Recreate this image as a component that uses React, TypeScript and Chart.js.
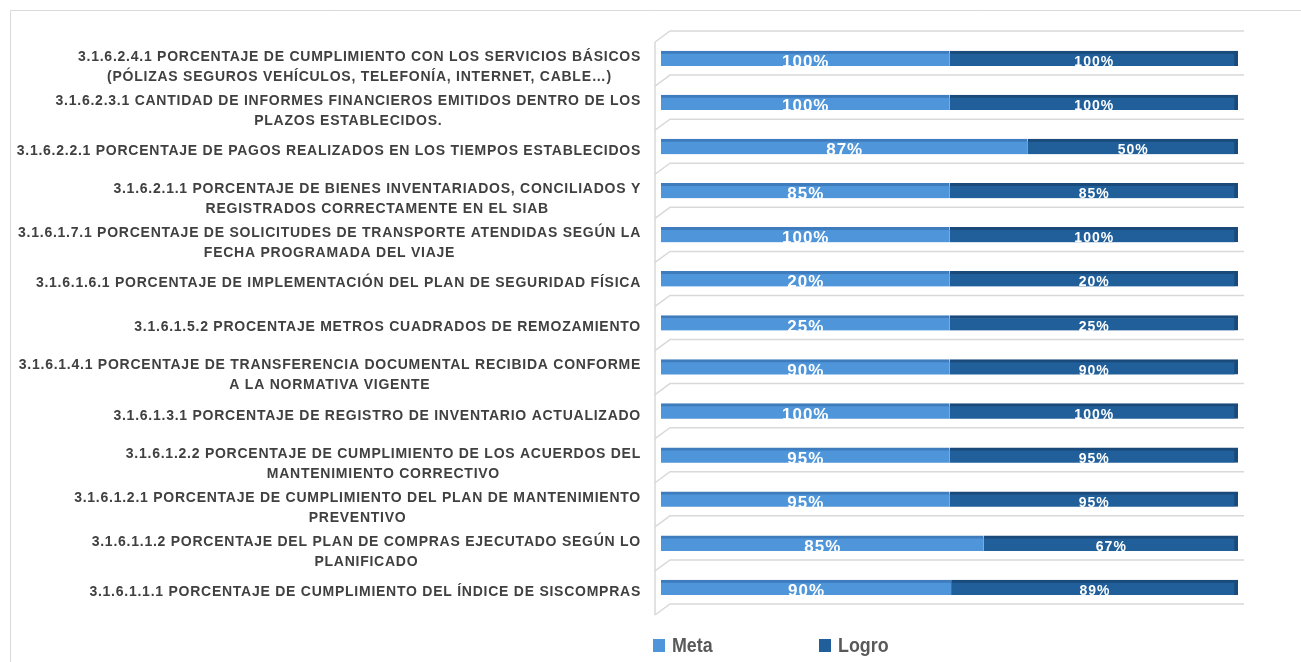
import React, { useEffect, useRef } from "react";
import { Chart, registerables } from "chart.js";

Chart.register(...registerables);

const categories: string[][] = [
  ["3.1.6.2.4.1 PORCENTAJE DE CUMPLIMIENTO CON LOS SERVICIOS BÁSICOS", "(PÓLIZAS SEGUROS VEHÍCULOS, TELEFONÍA, INTERNET, CABLE…)"],
  ["3.1.6.2.3.1 CANTIDAD DE INFORMES FINANCIEROS EMITIDOS DENTRO DE LOS", "PLAZOS ESTABLECIDOS."],
  ["3.1.6.2.2.1 PORCENTAJE DE PAGOS REALIZADOS EN LOS TIEMPOS ESTABLECIDOS"],
  ["3.1.6.2.1.1 PORCENTAJE DE BIENES INVENTARIADOS, CONCILIADOS Y", "REGISTRADOS CORRECTAMENTE EN EL SIAB"],
  ["3.1.6.1.7.1 PORCENTAJE DE SOLICITUDES DE TRANSPORTE ATENDIDAS SEGÚN LA", "FECHA PROGRAMADA DEL VIAJE"],
  ["3.1.6.1.6.1 PORCENTAJE DE IMPLEMENTACIÓN DEL PLAN DE SEGURIDAD FÍSICA"],
  ["3.1.6.1.5.2 PROCENTAJE METROS CUADRADOS DE REMOZAMIENTO"],
  ["3.1.6.1.4.1 PORCENTAJE DE TRANSFERENCIA DOCUMENTAL RECIBIDA CONFORME", "A LA NORMATIVA VIGENTE"],
  ["3.1.6.1.3.1 PORCENTAJE DE REGISTRO DE INVENTARIO ACTUALIZADO"],
  ["3.1.6.1.2.2 PORCENTAJE DE CUMPLIMIENTO DE LOS ACUERDOS DEL", "MANTENIMIENTO CORRECTIVO"],
  ["3.1.6.1.2.1 PORCENTAJE DE CUMPLIMIENTO DEL PLAN DE MANTENIMIENTO", "PREVENTIVO"],
  ["3.1.6.1.1.2 PORCENTAJE DEL PLAN DE COMPRAS EJECUTADO SEGÚN LO", "PLANIFICADO"],
  ["3.1.6.1.1.1 PORCENTAJE DE CUMPLIMIENTO DEL ÍNDICE DE SISCOMPRAS"],
];

const metaValues: number[] = [100, 100, 87, 85, 100, 20, 25, 90, 100, 95, 95, 85, 90];
const logroValues: number[] = [100, 100, 50, 85, 100, 20, 25, 90, 100, 95, 95, 67, 89];

const seriesNames = ["Meta", "Logro"];
const seriesColors = ["#4F95D9", "#215F9A"];
const seriesEdgeColors = ["#3E7CBD", "#194A7A"];

const LABEL_FONT = 'bold 14px "Liberation Sans", Arial, sans-serif';

const framePlugin = {
  id: "frame3d",
  beforeDatasetsDraw(chart: any) {
    const { ctx, chartArea } = chart;
    const y = chart.scales.y;
    const n = chart.data.labels.length;
    const band = (chartArea.bottom - chartArea.top) / n;
    ctx.save();
    ctx.strokeStyle = "#D9D9D9";
    ctx.lineWidth = 1;
    ctx.beginPath();
    ctx.moveTo(10.5, 700);
    ctx.lineTo(10.5, 10.5);
    ctx.lineTo(1301, 10.5);
    ctx.stroke();
    ctx.strokeStyle = "#D9D9D9";
    ctx.lineWidth = 1.5;
    const xFront = chartArea.left - 6;
    const xBack = chartArea.left + 9;
    const xRight = chartArea.right + 6;
    for (let k = 0; k <= n; k++) {
      const yb = chartArea.top - 5.5 + k * band;
      ctx.beginPath();
      ctx.moveTo(xFront, yb + 11);
      ctx.lineTo(xBack, yb);
      ctx.lineTo(xRight, yb);
      ctx.stroke();
    }
    ctx.beginPath();
    ctx.moveTo(xFront, chartArea.top - 5.5 + 11);
    ctx.lineTo(xFront, chartArea.top - 5.5 + n * band + 11);
    ctx.stroke();

    ctx.font = LABEL_FONT;
    (ctx as any).letterSpacing = "0.75px";
    ctx.fillStyle = "#404040";
    ctx.textAlign = "center";
    ctx.textBaseline = "middle";
    const lineH = 20;
    chart.data.labels.forEach((lab: string[], i: number) => {
      const lines = Array.isArray(lab) ? lab : [lab];
      const widths = lines.map((l) => ctx.measureText(l).width);
      const maxW = Math.max(...widths);
      const cx = chartArea.left - 20 - maxW / 2;
      const cy = y.getPixelForValue(i) + 4.5 + 4 * (lines.length - 1);
      const y0 = cy - ((lines.length - 1) * lineH) / 2;
      lines.forEach((l, j) => ctx.fillText(l, cx, y0 + j * lineH));
    });
    ctx.restore();
  },
  afterDatasetsDraw(chart: any) {
    const { ctx } = chart;
    const raws = [metaValues, logroValues];
    const fonts = ['bold 17px "Liberation Sans", sans-serif', 'bold 14px "Liberation Sans", sans-serif'];
    const lift = [1, 0];
    ctx.save();
    ctx.fillStyle = "#FFFFFF";
    ctx.textAlign = "center";
    ctx.textBaseline = "alphabetic";
    (ctx as any).letterSpacing = "1px";
    chart.data.datasets.forEach((ds: any, di: number) => {
      const meta = chart.getDatasetMeta(di);
      ctx.font = fonts[di];
      meta.data.forEach((bar: any, i: number) => {
        const cx = (bar.x + bar.base) / 2;
        const bottom = bar.y + bar.height / 2;
        ctx.fillText(raws[di][i] + "%", cx + 0.5, bottom + lift[di]);
      });
    });
    ctx.restore();

    ctx.save();
    ctx.font = 'bold 21px "Liberation Sans", Arial, sans-serif';
    ctx.textBaseline = "alphabetic";
    ctx.textAlign = "left";
    const startX = chart.chartArea.left - 8;
    chart.data.datasets.forEach((ds: any, di: number) => {
      const x = startX + di * 166;
      ctx.fillStyle = ds.backgroundColor;
      ctx.fillRect(x, 639, 12, 13);
      ctx.fillStyle = "#595959";
      ctx.save();
      ctx.translate(x + 19, 652);
      ctx.scale(0.85, 1);
      ctx.fillText(ds.label, 0, 0);
      ctx.restore();
    });
    ctx.restore();
  },
};

export default function App() {
  const ref = useRef<HTMLCanvasElement | null>(null);
  useEffect(() => {
    if (!ref.current) return;
    const totals = metaValues.map((m, i) => m + logroValues[i]);
    const chart = new Chart(ref.current, {
      type: "bar",
      data: {
        labels: categories,
        datasets: [
          {
            label: seriesNames[0],
            data: metaValues.map((m, i) => (m / totals[i]) * 100),
            backgroundColor: seriesColors[0],
            borderColor: seriesEdgeColors[0],
            borderWidth: { top: 3, right: 0, bottom: 0, left: 0 },
            borderSkipped: false,
            barThickness: 15,
          },
          {
            label: seriesNames[1],
            data: logroValues.map((l, i) => (l / totals[i]) * 100),
            backgroundColor: seriesColors[1],
            borderColor: seriesEdgeColors[1],
            borderWidth: { top: 3, right: 4, bottom: 0, left: 0 },
            borderSkipped: false,
            barThickness: 15,
          },
        ],
      },
      options: {
        indexAxis: "y",
        animation: false,
        responsive: false,
        layout: { padding: { left: 661, right: 63, top: 36.5, bottom: 52.5 } },
        scales: {
          x: { display: false, stacked: true, min: 0, max: 100 },
          y: { display: false, stacked: true },
        },
        plugins: {
          legend: { display: false },
          tooltip: { enabled: false },
          title: { display: false },
        },
      },
      plugins: [framePlugin],
    });
    return () => chart.destroy();
  }, []);
  return (
    <div style={{ position: "absolute", left: 0, top: 0, width: 1301, height: 662, background: "#fff" }}>
      <canvas ref={ref} width={1301} height={662} style={{ display: "block" }} />
    </div>
  );
}
